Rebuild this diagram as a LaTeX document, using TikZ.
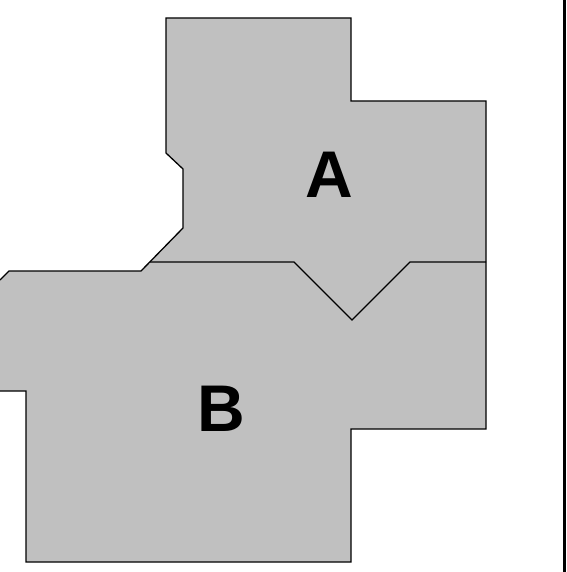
\documentclass[tikz,border=0pt]{standalone}
\usepackage{fontspec}
\setmainfont{Liberation Sans}
\definecolor{roomgray}{HTML}{C0C0C0}
\begin{document}
\begin{tikzpicture}[x=1pt,y=-1pt,
  room/.style={fill=roomgray,draw=none},
  wall/.style={draw=black,line width=1.3pt,line join=miter},
  lbl/.style={font=\fontsize{66}{66}\selectfont\bfseries,inner sep=0pt}]
\useasboundingbox (0,0) rectangle (566,572);
% room B
\fill[room] (0,280) -- (9,271) -- (141,271) -- (150,262) -- (294,262) -- (352,320) -- (410,262) -- (486,262) -- (486,429) -- (351,429) -- (351,562) -- (26,562) -- (26,391) -- (0,391) -- cycle;
% room A
\fill[room] (166,18) -- (351,18) -- (351,101) -- (486,101) -- (486,262) -- (410,262) -- (352,320) -- (294,262) -- (150,262) -- (183,228) -- (183,169) -- (166,153) -- cycle;
% outlines
\draw[wall] (0,280) -- (9,271) -- (141,271) -- (183,228) -- (183,169) -- (166,153) -- (166,18) -- (351,18) -- (351,101) -- (486,101) -- (486,429) -- (351,429) -- (351,562) -- (26,562) -- (26,391) -- (0,391);
\draw[wall] (150,262) -- (294,262) -- (352,320) -- (410,262) -- (486,262);
% right border
\draw[line width=2.5pt] (564.5,0) -- (564.5,572);
\node[lbl] (A) at (329,175) {A};
\node[lbl] (B) at (221,409) {B};
\end{tikzpicture}
\end{document}
